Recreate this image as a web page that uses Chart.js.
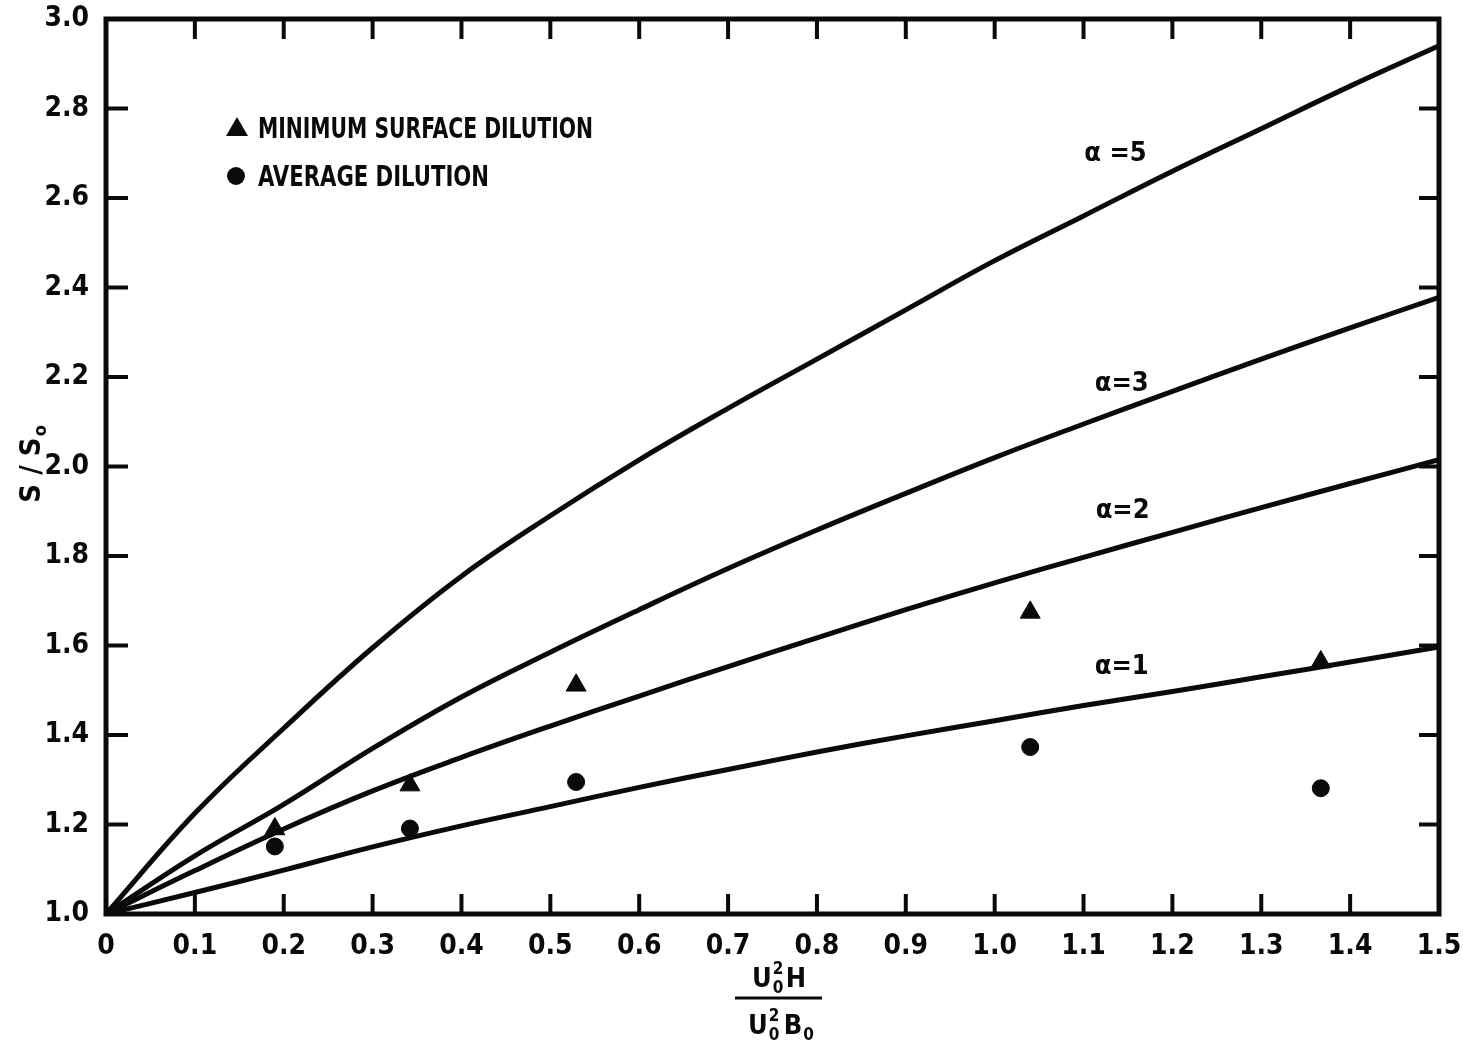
<!DOCTYPE html>
<html>
<head>
<meta charset="utf-8">
<script src="https://cdn.jsdelivr.net/npm/chart.js@4.4.1/dist/chart.umd.min.js"></script>
<style>
  body { margin: 0; background: #fff; }
  #wrap { width: 1463px; height: 1049px; }
</style>
</head>
<body>
<div id="wrap"><canvas id="chart"></canvas></div>
<script>
// curves, S/S0 vs U0^2 H / (U0^2 B0)
var curveX = [0, 0.1, 0.2, 0.3, 0.4, 0.5, 0.6, 0.7, 0.8, 0.9, 1.0, 1.1, 1.2, 1.3, 1.4, 1.5];
var alpha1 = [1.0, 1.048, 1.098, 1.15, 1.197, 1.24, 1.283, 1.323, 1.362, 1.398, 1.432, 1.466, 1.497, 1.53, 1.563, 1.597];
var alpha2 = [1.0, 1.097, 1.19, 1.275, 1.35, 1.42, 1.487, 1.553, 1.617, 1.68, 1.74, 1.797, 1.853, 1.908, 1.962, 2.015];
var alpha3 = [1.0, 1.13, 1.245, 1.37, 1.485, 1.585, 1.68, 1.772, 1.858, 1.94, 2.02, 2.095, 2.168, 2.24, 2.31, 2.378];
var alpha5 = [1.0, 1.225, 1.415, 1.595, 1.755, 1.89, 2.015, 2.13, 2.24, 2.35, 2.46, 2.56, 2.66, 2.755, 2.85, 2.94];

// measured points
var pointX = [0.19, 0.342, 0.529, 1.04, 1.367];
var minSurface = [1.19, 1.288, 1.511, 1.674, 1.563];
var average = [1.151, 1.191, 1.295, 1.373, 1.281];

// ticks
var xTicks = [0, 0.1, 0.2, 0.3, 0.4, 0.5, 0.6, 0.7, 0.8, 0.9, 1.0, 1.1, 1.2, 1.3, 1.4, 1.5];
var xTickLabels = ['0', '0.1', '0.2', '0.3', '0.4', '0.5', '0.6', '0.7', '0.8', '0.9', '1.0', '1.1', '1.2', '1.3', '1.4', '1.5'];
var yTicks = [1.0, 1.2, 1.4, 1.6, 1.8, 2.0, 2.2, 2.4, 2.6, 2.8, 3.0];
var yTickLabels = ['1.0', '1.2', '1.4', '1.6', '1.8', '2.0', '2.2', '2.4', '2.6', '2.8', '3.0'];

// curve labels, placed in data units
var curveNames = ['\u03b1 =5', '\u03b1=3', '\u03b1=2', '\u03b1=1'];
var curveNameX = [1.136, 1.143, 1.144, 1.143];
var curveNameY = [2.699, 2.185, 1.9, 1.552];

var legendNames = ['MINIMUM SURFACE DILUTION', 'AVERAGE DILUTION'];

var INK = '#0a0a0a';
var FONT = '"Liberation Sans Narrow", "DejaVu Sans Condensed", "Liberation Sans", sans-serif';

function pts(xs, ys) {
  return xs.map(function(x, i) { return { x: x, y: ys[i] }; });
}

function curve(label, ys) {
  return {
    label: label,
    data: pts(curveX, ys),
    showLine: true,
    borderColor: INK,
    borderWidth: 5,
    pointRadius: 0,
    tension: 0.4,
    fill: false
  };
}

// sub/superscript pair after a letter, returns new x
function scripts(ctx, x, base, sup, sub) {
  ctx.font = 'bold 17px ' + FONT;
  if (sup) ctx.fillText(sup, x + 1, base - 13);
  if (sub) ctx.fillText(sub, x + 1, base + 6);
  return x + 12;
}

var frame = {
  id: 'frame',
  afterDatasetsDraw: function(chart) {
    var ctx = chart.ctx, a = chart.chartArea;
    var xs = chart.scales.x, ys = chart.scales.y;
    ctx.save();
    ctx.strokeStyle = INK;
    ctx.fillStyle = INK;

    // box
    ctx.lineWidth = 5;
    ctx.strokeRect(a.left, a.top, a.right - a.left, a.bottom - a.top);

    // inward ticks on all four sides
    ctx.lineWidth = 4;
    ctx.beginPath();
    xTicks.forEach(function(v, i) {
      if (i == 0 || i == xTicks.length - 1) return;
      var px = xs.getPixelForValue(v);
      ctx.moveTo(px, a.bottom); ctx.lineTo(px, a.bottom - 20);
      ctx.moveTo(px, a.top); ctx.lineTo(px, a.top + 20);
    });
    yTicks.forEach(function(v, i) {
      if (i == 0 || i == yTicks.length - 1) return;
      var py = ys.getPixelForValue(v);
      ctx.moveTo(a.left, py); ctx.lineTo(a.left + 22, py);
      ctx.moveTo(a.right, py); ctx.lineTo(a.right - 20, py);
    });
    ctx.stroke();

    // curve names
    ctx.font = 'bold 27px ' + FONT;
    ctx.textAlign = 'center';
    ctx.textBaseline = 'middle';
    curveNames.forEach(function(t, i) {
      ctx.fillText(t, xs.getPixelForValue(curveNameX[i]), ys.getPixelForValue(curveNameY[i]));
    });

    // legend
    ctx.textAlign = 'left';
    ctx.textBaseline = 'alphabetic';
    ctx.beginPath();
    ctx.moveTo(237, 117); ctx.lineTo(248, 136); ctx.lineTo(226, 136); ctx.closePath();
    ctx.fill();
    ctx.beginPath();
    ctx.arc(236, 176, 9, 0, Math.PI * 2);
    ctx.fill();
    ctx.font = 'bold 28px ' + FONT;
    ctx.fillText(legendNames[0], 258, 138, 335);
    ctx.fillText(legendNames[1], 258, 186, 231);

    // y title S/S0
    ctx.save();
    ctx.translate(40, 465);
    ctx.rotate(-Math.PI / 2);
    ctx.font = 'bold 29px ' + FONT;
    ctx.textAlign = 'left';
    var w = ctx.measureText('S / S').width;
    ctx.fillText('S / S', -w / 2 - 5, 0);
    ctx.font = 'bold 18px ' + FONT;
    ctx.fillText('o', w / 2 - 4, 6);
    ctx.restore();

    // x title, a fraction
    var cx = 778;
    ctx.font = 'bold 27px ' + FONT;
    var x0 = cx - 26;
    ctx.fillText('U', x0, 987);
    var x1 = scripts(ctx, x0 + ctx.measureText('U').width, 987, '2', '0');
    ctx.font = 'bold 27px ' + FONT;
    ctx.fillText('H', x1 + 2, 987);
    ctx.lineWidth = 3;
    ctx.beginPath();
    ctx.moveTo(735, 998); ctx.lineTo(822, 998);
    ctx.stroke();
    x0 = cx - 30;
    ctx.font = 'bold 27px ' + FONT;
    ctx.fillText('U', x0, 1034);
    x1 = scripts(ctx, x0 + ctx.measureText('U').width, 1034, '2', '0');
    ctx.font = 'bold 27px ' + FONT;
    ctx.fillText('B', x1 + 4, 1034);
    var x2 = x1 + 4 + ctx.measureText('B').width;
    scripts(ctx, x2, 1034, null, '0');
    ctx.restore();
  }
};

new Chart(document.getElementById('chart'), {
  type: 'scatter',
  data: {
    datasets: [
      {
        label: legendNames[0],
        data: pts(pointX, minSurface),
        pointStyle: 'triangle',
        pointRadius: 11.5,
        backgroundColor: INK,
        borderColor: INK,
        borderWidth: 1
      },
      {
        label: legendNames[1],
        data: pts(pointX, average),
        pointStyle: 'circle',
        pointRadius: 8.5,
        backgroundColor: INK,
        borderColor: INK,
        borderWidth: 1
      },
      curve('alpha = 5', alpha5),
      curve('alpha = 3', alpha3),
      curve('alpha = 2', alpha2),
      curve('alpha = 1', alpha1)
    ]
  },
  options: {
    responsive: true,
    maintainAspectRatio: false,
    animation: false,
    layout: { autoPadding: false, padding: { top: 19, right: 24, left: 0, bottom: 0 } },
    plugins: {
      legend: { display: false },
      tooltip: { enabled: false }
    },
    scales: {
      x: {
        type: 'linear',
        min: 0,
        max: 1.5,
        grid: { display: false, drawTicks: false },
        border: { display: false },
        afterBuildTicks: function(s) { s.ticks = xTicks.map(function(v) { return { value: v }; }); },
        afterFit: function(s) { s.height = 135; s.paddingLeft = 0; s.paddingRight = 0; },
        ticks: {
          padding: 16,
          color: INK,
          font: { family: FONT, size: 28, weight: 'bold' },
          callback: function(v, i) { return xTickLabels[i]; }
        }
      },
      y: {
        type: 'linear',
        min: 1.0,
        max: 3.0,
        grid: { display: false, drawTicks: false },
        border: { display: false },
        afterBuildTicks: function(s) { s.ticks = yTicks.map(function(v) { return { value: v }; }); },
        afterFit: function(s) { s.width = 106; s.paddingTop = 0; s.paddingBottom = 0; },
        ticks: {
          padding: 17,
          color: INK,
          font: { family: FONT, size: 28, weight: 'bold' },
          callback: function(v, i) { return yTickLabels[i]; }
        }
      }
    }
  },
  plugins: [frame]
});
</script>
</body>
</html>
